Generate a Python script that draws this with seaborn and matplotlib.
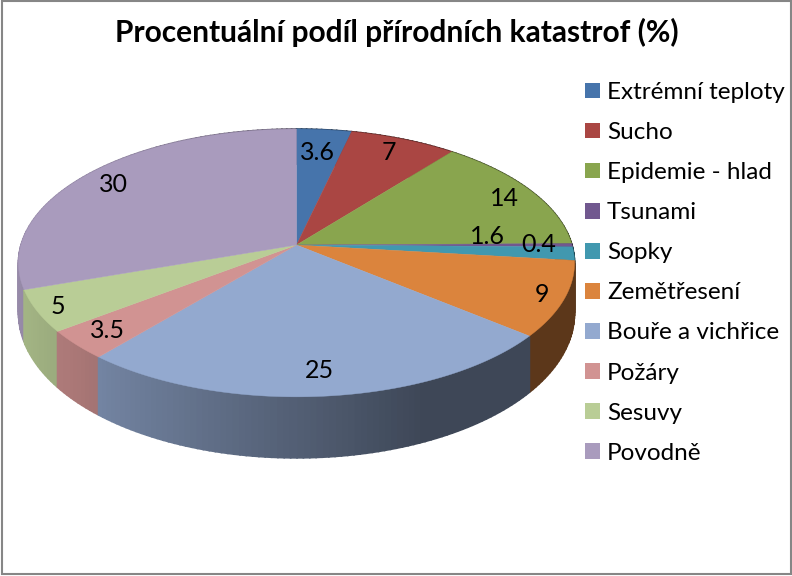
import numpy as np
import seaborn as sns
import matplotlib.pyplot as plt
from matplotlib.patches import Patch, Rectangle

# Chart data
categories = ['Extrémní teploty', 'Sucho', 'Epidemie - hlad', 'Tsunami', 'Sopky',
              'Zemětřesení', 'Bouře a vichřice', 'Požáry', 'Sesuvy', 'Povodně']
values = [3.6, 7, 14, 0.4, 1.6, 9, 25, 3.5, 5, 30]
colors = ['#4674AB', '#AA4643', '#89A54E', '#71588F', '#4198AF',
          '#DB843D', '#93A9CF', '#D19392', '#B9CD96', '#A99BBD']
title = 'Procentuální podíl přírodních katastrof (%)'

# Where each value label sits, in picture pixels
label_pos = [(317, 152), (389, 152), (504, 199), (539, 245), (487, 237),
             (542, 295), (319, 370), (107, 330), (58, 306), (113, 184)]

sns.set_theme(style='white')
plt.rcParams['font.family'] = ['Lato', 'DejaVu Sans']
palette = sns.color_palette(colors)

fig = plt.figure(figsize=(7.92, 5.76), dpi=100)
ax = fig.add_axes([0, 0, 1, 1])
ax.set_xlim(0, 792)
ax.set_ylim(576, 0)
ax.axis('off')

# Perspective of the pie disc
cx, cy = 296.5, 245
a, b, k = 275.5, 131.5, 0.134


def project(theta):
    u, v = np.sin(theta), np.cos(theta)
    return cx + a * u / (1 + k * v), cy - b * v / (1 + k * v), u, v


def rim_depth(v):
    return 48 - 13 * v


def shade(u):
    return np.interp(u, [-1, -0.75, 0, 0.4, 1], [0.9, 0.82, 0.56, 0.42, 0.42])


ax.add_patch(Rectangle((2, 1), 789, 573, fill=False, edgecolor='#868686', lw=1.5))

shares = np.array(values) / sum(values)
edges = np.concatenate([[0], np.cumsum(shares)]) * 2 * np.pi

# Side of the pie, cut in thin strips so the shading can change along the rim
strips = []
for i, col in enumerate(palette):
    n = max(2, int((edges[i + 1] - edges[i]) / 0.02))
    t = np.linspace(edges[i], edges[i + 1], n + 1)
    for t0, t1 in zip(t[:-1], t[1:]):
        strips.append((np.cos((t0 + t1) / 2), t0, t1, col))
strips.sort(key=lambda s: -s[0])
for _, t0, t1, col in strips:
    x0, y0, u0, v0 = project(t0)
    x1, y1, u1, v1 = project(t1)
    f = shade((u0 + u1) / 2)
    c = tuple(np.array(col) * f)
    ax.fill([x0, x1, x1, x0], [y0, y1, y1 + rim_depth(v1), y0 + rim_depth(v0)],
            color=c, lw=1.2)

# Top of the pie
for i, col in enumerate(palette):
    t = np.linspace(edges[i], edges[i + 1], 200)
    x, y, _, _ = project(t)
    ax.fill(np.r_[cx, x], np.r_[cy, y], color=col, lw=0.3)

for val, (lx, ly) in zip(values, label_pos):
    ax.text(lx, ly, str(val), ha='center', va='center', fontsize=18, color='black')

ax.text(397, 32, title, ha='center', va='center', fontsize=21.5, fontweight='bold', color='black')

handles = [Patch(facecolor=c, edgecolor='none', label=n) for c, n in zip(palette, categories)]
ax.legend(handles=handles, loc='upper left', bbox_to_anchor=(585, 82), bbox_transform=ax.transData,
          frameon=False, fontsize=17.5, labelcolor='black', borderpad=0, borderaxespad=0,
          handlelength=0.62, handleheight=0.62, handletextpad=0.28, labelspacing=0.785)

plt.savefig('out.png', dpi=100)
